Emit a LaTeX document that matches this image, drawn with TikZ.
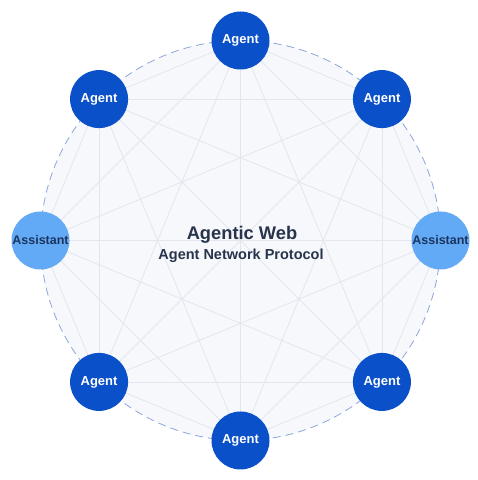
\documentclass[tikz,border=0pt]{standalone}
\usepackage{fontspec}
\setmainfont{Liberation Sans}
\usetikzlibrary{positioning,backgrounds,calc}
\definecolor{agentBL}{RGB}{10,80,200}
\definecolor{assistBL}{RGB}{98,170,246}
\definecolor{ringBL}{RGB}{140,165,218}
\definecolor{meshGR}{RGB}{226,230,238}
\definecolor{hubBG}{RGB}{246,248,252}
\definecolor{titleTX}{RGB}{40,52,75}
\definecolor{assistTX}{RGB}{28,52,92}

\tikzset{
  agent/.style={circle,fill=agentBL,text=white,minimum size=58pt,inner sep=0pt,
    font=\bfseries\fontsize{13}{15}\selectfont},
  assistant/.style={circle,fill=assistBL,text=assistTX,minimum size=58pt,inner sep=0pt,
    font=\bfseries\fontsize{12.5}{15}\selectfont},
  mesh/.style={draw=meshGR,line width=0.8pt},
}

\begin{document}
\begin{tikzpicture}[x=1pt,y=1pt]
  \useasboundingbox (0,0) rectangle (478,480);
  \coordinate (hub) at (240.5,239.5);

  % peers round the ring
  \foreach \i/\a/\kind/\txt in {1/90/agent/Agent,2/45/agent/Agent,3/0/assistant/Assistant,
      4/-45/agent/Agent,5/-90/agent/Agent,6/-135/agent/Agent,7/180/assistant/Assistant,8/135/agent/Agent}
    \node[\kind] (n\i) at ($(hub)+(\a:200)$) {\txt};

  \node[text=titleTX,font=\bfseries\fontsize{18.3}{21}\selectfont] (title) at (242,245.5) {Agentic Web};
  \node[text=titleTX,font=\bfseries\fontsize{14.5}{17}\selectfont] (sub) at (241,224) {Agent Network Protocol};

  \begin{pgfonlayer}{background}
    \fill[hubBG] (hub) circle (200);
    \foreach \i in {1,...,7} {
      \pgfmathtruncatemacro\nxt{\i+1}
      \foreach \j in {\nxt,...,8}
        \draw[mesh] (n\i.center) -- (n\j.center);
    }
    \draw[ringBL,line width=0.8pt,dash pattern=on 8pt off 5pt] (hub) circle (200);
  \end{pgfonlayer}
\end{tikzpicture}
\end{document}
